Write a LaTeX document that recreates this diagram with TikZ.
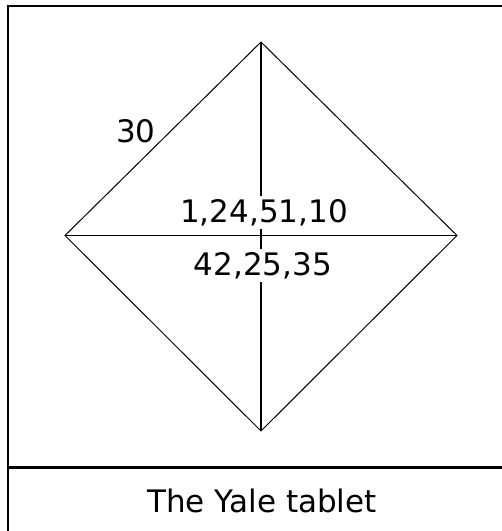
\documentclass[tikz,border=0pt]{standalone}
\usepackage{fontspec}
\setmainfont{DejaVu Sans}
\usetikzlibrary{positioning}
\begin{document}
\begin{tikzpicture}[x=1pt, y=-1pt,
  every node/.style={font=\fontsize{31}{36}\selectfont, anchor=base},
  edge/.style={line width=1pt, color=black},
  axis/.style={line width=1.6pt, color=black},
  frame/.style={line width=2pt, color=black},
  rule/.style={line width=3pt, color=black},
  num/.style={fill=white, inner sep=3pt}
]
\useasboundingbox (0,0) rectangle (502,531);

% --- the square tablet, turned on its corner
\coordinate (top)    at (261,42);
\coordinate (left)   at (65,235.5);
\coordinate (right)  at (457,235.5);
\coordinate (bottom) at (261,431);
\draw[edge] (top) -- (right) -- (bottom) -- (left) -- cycle;
\draw[axis] (top) -- (bottom);
\draw[axis] (left) -- (right);

% --- numbers
\node (side)       at (136,142) {30};
\node[num] (upper) at (264,222) {1,24,51,10};
\node[num] (lower) at (263,275) {42,25,35};

% --- frame and caption
\draw[frame] (8,531) -- (8,6) -- (502,6);
\draw[rule]  (8,467.5) -- (502,467.5);
\node (caption) at (262,512) {The Yale tablet};

\end{tikzpicture}
\end{document}
